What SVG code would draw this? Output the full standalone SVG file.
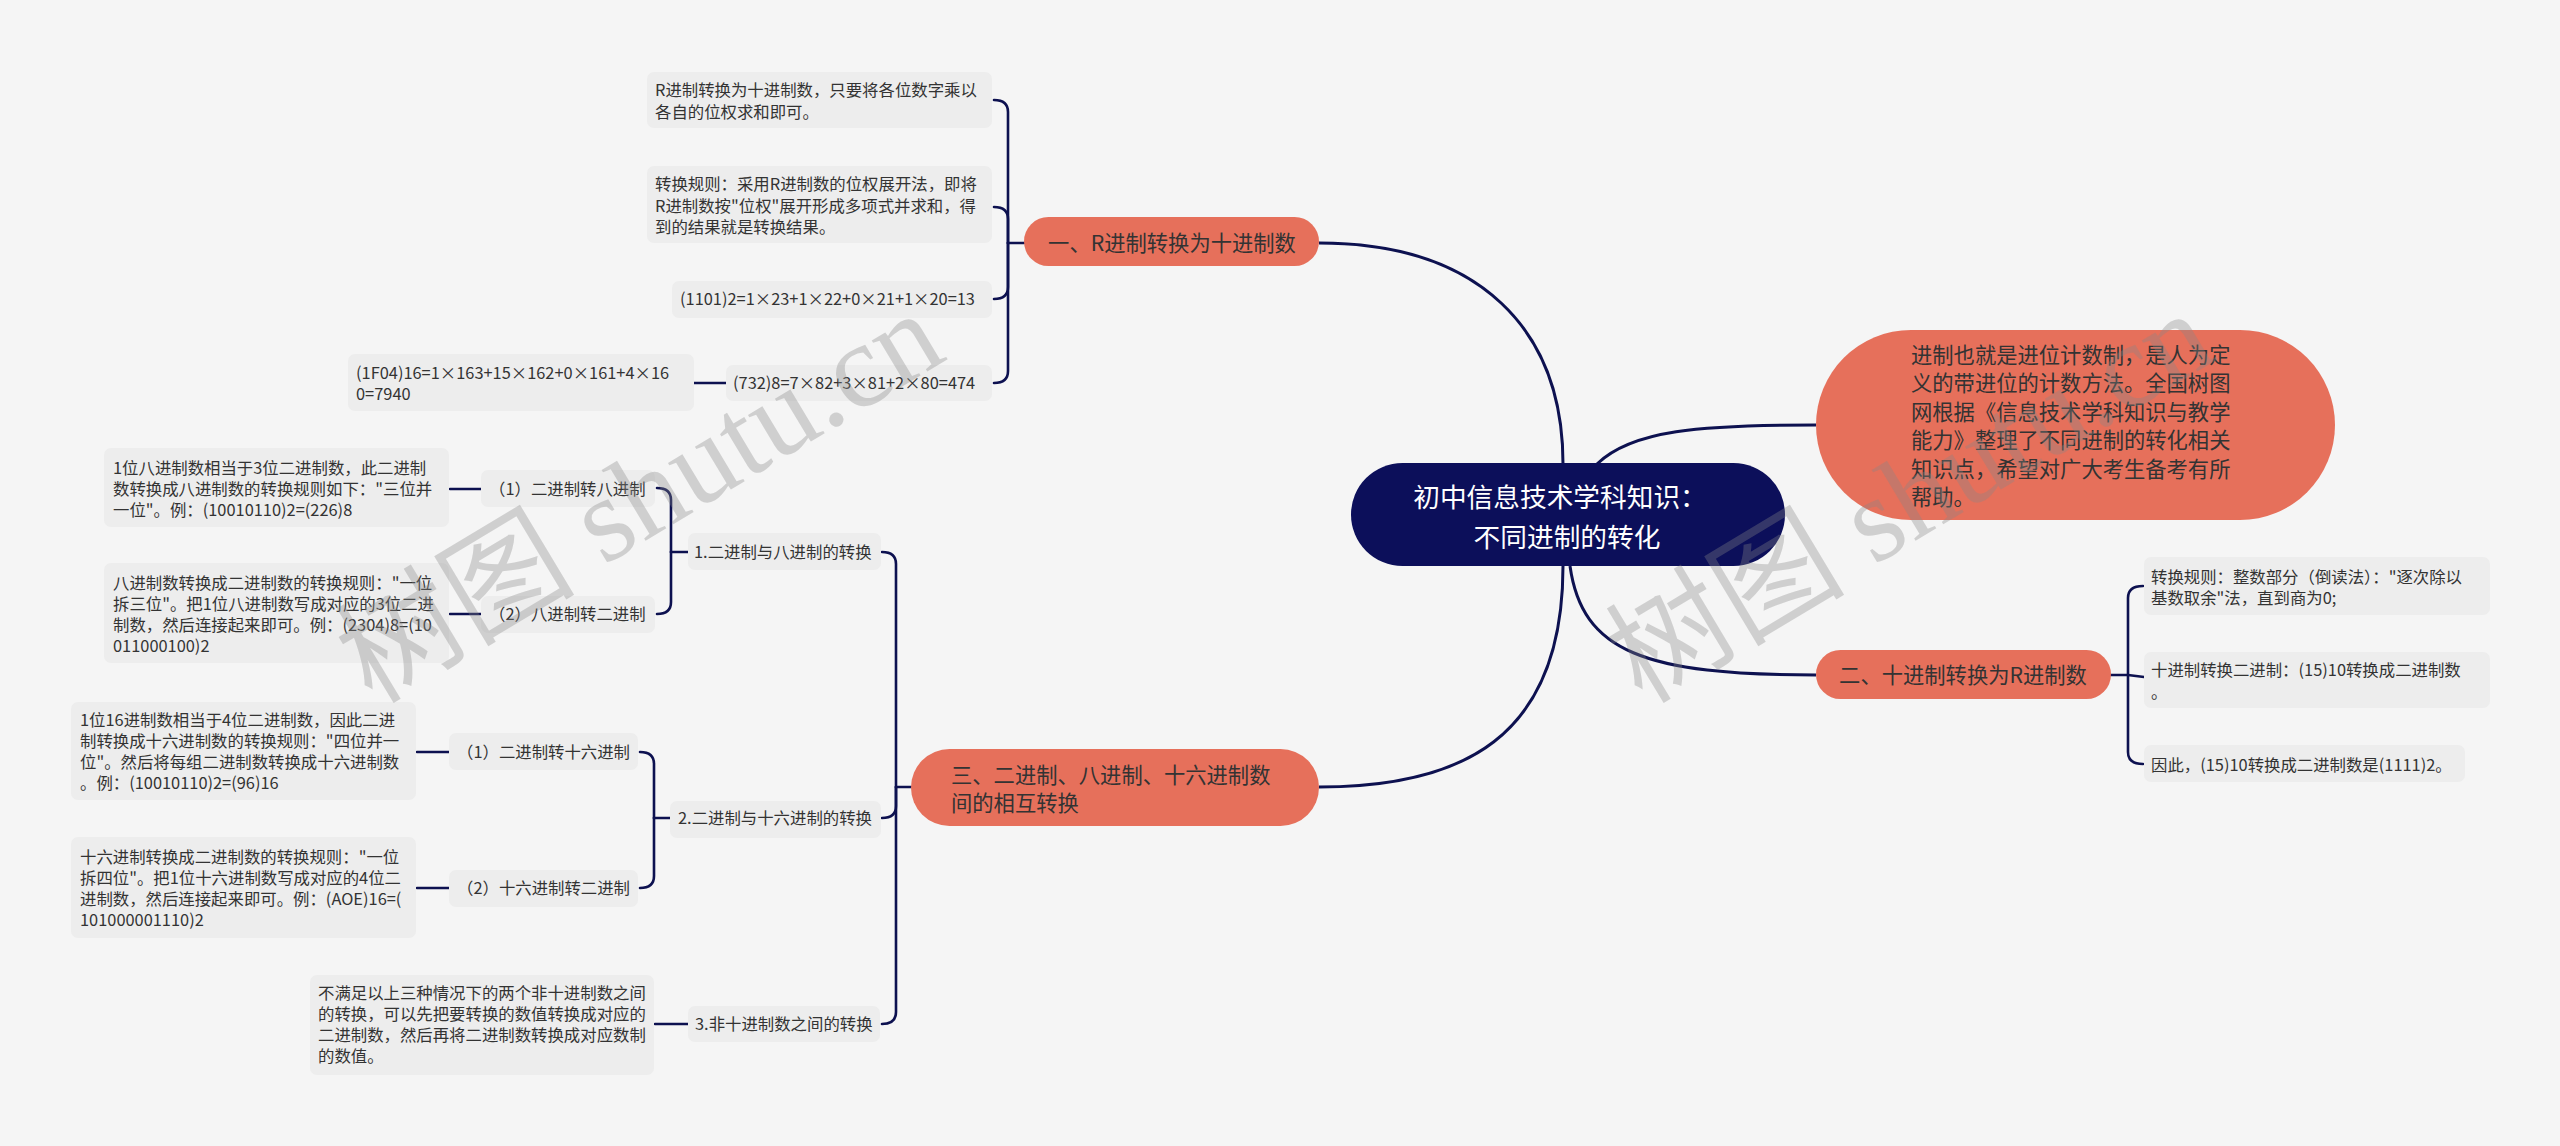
<svg xmlns="http://www.w3.org/2000/svg" width="2560" height="1146" viewBox="0 0 2560 1146">
<style>
text{font-family:"Noto Sans CJK SC","Noto Sans",sans-serif;fill:#333;}
.s{font-size:16.4px;}
.b{font-size:21.3px;}
.t{font-size:26.7px;fill:#fff;}
.box{fill:#ededed;}
.br{fill:#e6705b;}
.c{fill:none;stroke:#0d1150;stroke-width:2.6;stroke-linecap:round;}
.m{fill:none;stroke:#0d1150;stroke-width:3;}
.wm{font-family:"Liberation Serif","Noto Sans CJK SC",serif;font-size:120px;fill:#888;fill-opacity:0.34;}
</style>
<rect width="2560" height="1146" fill="#f5f5f5"/>
<g id="connectors">
<path class="m" d="M1319 243 C1480 243 1563 330 1563 464"/>
<path class="m" d="M1597 464 C1632 430 1700 425 1816 425"/>
<path class="m" d="M1570 566 C1582 652 1645 675 1816 675"/>
<path class="m" d="M1563 566 C1563 740 1460 787 1319 787"/>
<path class="c" d="M1024 243 L1008 243"/>
<path class="c" d="M1008 243 L1008 112 Q1008 100 994 100"/>
<path class="c" d="M1008 243 L1008 219 Q1008 207 994 207"/>
<path class="c" d="M1008 243 L1008 287 Q1008 299 994 299"/>
<path class="c" d="M1008 243 L1008 371 Q1008 383 994 383"/>
<path class="c" d="M726 383 L694 383"/>
<path class="c" d="M2111 675 L2128 675"/>
<path class="c" d="M2128 675 L2128 598 Q2128 586 2143 586"/>
<path class="c" d="M2128 675 L2144 677"/>
<path class="c" d="M2128 675 L2128 752 Q2128 764 2143 764"/>
<path class="c" d="M911 787 L896 787"/>
<path class="c" d="M896 787 L896 564 Q896 552 882 552"/>
<path class="c" d="M896 787 L896 806 Q896 818 882 818"/>
<path class="c" d="M896 787 L896 1012 Q896 1024 882 1024"/>
<path class="c" d="M688 552 L671 552"/>
<path class="c" d="M671 552 L671 500 Q671 488 657 488"/>
<path class="c" d="M671 552 L671 602 Q671 614 657 614"/>
<path class="c" d="M481 489 L450 489"/>
<path class="c" d="M481 614 L450 614"/>
<path class="c" d="M670 818 L654 818"/>
<path class="c" d="M654 818 L654 764 Q654 752 640 752"/>
<path class="c" d="M654 818 L654 876 Q654 888 640 888"/>
<path class="c" d="M449 752 L417 752"/>
<path class="c" d="M449 888 L417 888"/>
<path class="c" d="M688 1024 L655 1024"/>
</g>
<g id="root">
<rect x="1351" y="463" width="434" height="103" rx="51.5" fill="#0c0f5a"/>
<text class="t" x="1560" y="507" text-anchor="middle">初中信息技术学科知识：</text>
<text class="t" x="1567" y="547" text-anchor="middle">不同进制的转化</text>
</g>
<g id="intro">
<rect class="br" x="1816" y="330" width="519" height="190" rx="95"/>
<text class="b" x="1911" y="363">进制也就是进位计数制，是人为定</text>
<text class="b" x="1911" y="391">义的带进位的计数方法。全国树图</text>
<text class="b" x="1911" y="420">网根据《信息技术学科知识与教学</text>
<text class="b" x="1911" y="448">能力》整理了不同进制的转化相关</text>
<text class="b" x="1911" y="477">知识点，希望对广大考生备考有所</text>
<text class="b" x="1911" y="505">帮助。</text>
</g>
<g id="branch1">
<rect class="br" x="1024" y="217" width="295" height="49" rx="24.5"/>
<text class="b" x="1172" y="251" text-anchor="middle">一、R进制转换为十进制数</text>
</g>
<g id="b1c1">
<rect class="box" x="647" y="72" width="345" height="56" rx="7"/>
<text class="s" x="655" y="96">R进制转换为十进制数，只要将各位数字乘以</text>
<text class="s" x="655" y="118">各自的位权求和即可。</text>
</g>
<g id="b1c2">
<rect class="box" x="647" y="166" width="345" height="77" rx="7"/>
<text class="s" x="655" y="190">转换规则：采用R进制数的位权展开法，即将</text>
<text class="s" x="655" y="212">R进制数按"位权"展开形成多项式并求和，得</text>
<text class="s" x="655" y="233">到的结果就是转换结果。</text>
</g>
<g id="b1c3">
<rect class="box" x="672" y="281" width="320" height="37" rx="7"/>
<text class="s" x="680" y="305">(1101)2=1×23+1×22+0×21+1×20=13</text>
</g>
<g id="b1c4">
<rect class="box" x="726" y="365" width="266" height="36" rx="7"/>
<text class="s" x="733" y="389">(732)8=7×82+3×81+2×80=474</text>
</g>
<g id="b1c4a">
<rect class="box" x="348" y="354" width="346" height="57" rx="7"/>
<text class="s" x="356" y="379">(1F04)16=1×163+15×162+0×161+4×16</text>
<text class="s" x="356" y="400">0=7940</text>
</g>
<g id="branch2">
<rect class="br" x="1816" y="650" width="295" height="49" rx="24.5"/>
<text class="b" x="1963" y="683" text-anchor="middle">二、十进制转换为R进制数</text>
</g>
<g id="b2c1">
<rect class="box" x="2144" y="557" width="346" height="58" rx="7"/>
<text class="s" x="2151" y="583">转换规则：整数部分（倒读法）："逐次除以</text>
<text class="s" x="2151" y="604">基数取余"法，直到商为0;</text>
</g>
<g id="b2c2">
<rect class="box" x="2144" y="652" width="346" height="56" rx="7"/>
<text class="s" x="2151" y="676">十进制转换二进制：(15)10转换成二进制数</text>
<text class="s" x="2151" y="698">。</text>
</g>
<g id="b2c3">
<rect class="box" x="2144" y="745" width="321" height="37" rx="7"/>
<text class="s" x="2151" y="771">因此，(15)10转换成二进制数是(1111)2。</text>
</g>
<g id="branch3">
<rect class="br" x="911" y="749" width="408" height="77" rx="38.5"/>
<text class="b" x="951" y="783">三、二进制、八进制、十六进制数</text>
<text class="b" x="951" y="811">间的相互转换</text>
</g>
<g id="b3c1">
<rect class="box" x="688" y="533" width="193" height="37" rx="7"/>
<text class="s" x="694" y="558">1.二进制与八进制的转换</text>
</g>
<g id="b3c1a">
<rect class="box" x="481" y="470" width="174" height="37" rx="7"/>
<text class="s" x="489" y="495">（1）二进制转八进制</text>
</g>
<g id="b3c1a1">
<rect class="box" x="104" y="448" width="345" height="79" rx="7"/>
<text class="s" x="113" y="474">1位八进制数相当于3位二进制数，此二进制</text>
<text class="s" x="113" y="495">数转换成八进制数的转换规则如下："三位并</text>
<text class="s" x="113" y="516">一位"。例：(10010110)2=(226)8</text>
</g>
<g id="b3c1b">
<rect class="box" x="481" y="596" width="174" height="37" rx="7"/>
<text class="s" x="489" y="620">（2）八进制转二进制</text>
</g>
<g id="b3c1b1">
<rect class="box" x="104" y="563" width="345" height="100" rx="7"/>
<text class="s" x="113" y="589">八进制数转换成二进制数的转换规则："一位</text>
<text class="s" x="113" y="610">拆三位"。把1位八进制数写成对应的3位二进</text>
<text class="s" x="113" y="631">制数，然后连接起来即可。例：(2304)8=(10</text>
<text class="s" x="113" y="652">011000100)2</text>
</g>
<g id="b3c2">
<rect class="box" x="670" y="801" width="211" height="37" rx="7"/>
<text class="s" x="678" y="824">2.二进制与十六进制的转换</text>
</g>
<g id="b3c2a">
<rect class="box" x="449" y="733" width="189" height="37" rx="7"/>
<text class="s" x="457" y="758">（1）二进制转十六进制</text>
</g>
<g id="b3c2a1">
<rect class="box" x="71" y="702" width="345" height="98" rx="7"/>
<text class="s" x="80" y="726">1位16进制数相当于4位二进制数，因此二进</text>
<text class="s" x="80" y="747">制转换成十六进制数的转换规则："四位并一</text>
<text class="s" x="80" y="768">位"。然后将每组二进制数转换成十六进制数</text>
<text class="s" x="80" y="789">。例：(10010110)2=(96)16</text>
</g>
<g id="b3c2b">
<rect class="box" x="449" y="870" width="189" height="37" rx="7"/>
<text class="s" x="457" y="894">（2）十六进制转二进制</text>
</g>
<g id="b3c2b1">
<rect class="box" x="71" y="837" width="345" height="101" rx="7"/>
<text class="s" x="80" y="863">十六进制转换成二进制数的转换规则："一位</text>
<text class="s" x="80" y="884">拆四位"。把1位十六进制数写成对应的4位二</text>
<text class="s" x="80" y="905">进制数，然后连接起来即可。例：(AOE)16=(</text>
<text class="s" x="80" y="926">101000001110)2</text>
</g>
<g id="b3c3">
<rect class="box" x="688" y="1006" width="192" height="36" rx="7"/>
<text class="s" x="695" y="1030">3.非十进制数之间的转换</text>
</g>
<g id="b3c3a">
<rect class="box" x="310" y="975" width="344" height="100" rx="7"/>
<text class="s" x="318" y="999">不满足以上三种情况下的两个非十进制数之间</text>
<text class="s" x="318" y="1020">的转换，可以先把要转换的数值转换成对应的</text>
<text class="s" x="318" y="1041">二进制数，然后再将二进制数转换成对应数制</text>
<text class="s" x="318" y="1062">的数值。</text>
</g>
<g id="watermarks">
<text class="wm" x="372" y="705" transform="rotate(-31 372 705)">树图 shutu.cn</text>
<text class="wm" x="1642" y="705" transform="rotate(-31 1642 705)">树图 shutu.cn</text>
</g>
</svg>
